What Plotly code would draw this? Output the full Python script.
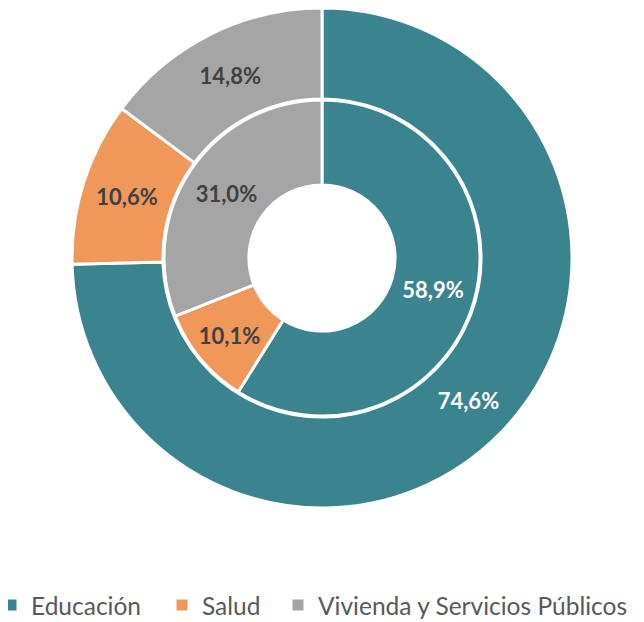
import plotly.graph_objects as go

labels = ["Educación", "Salud", "Vivienda y Servicios Públicos"]
outer_values = [74.6, 10.6, 14.8]
inner_values = [58.9, 10.1, 31.0]
colors = ["#3A8490", "#F0975A", "#A5A5A5"]
text_colors = ["#FFFFFF", "#404040", "#404040"]


def fmt(v):
    return f"{v:.1f}%".replace(".", ",")


W, H = 644, 622
# page body has an 8px margin, so the centre is shifted by that amount
cx, cy = 314, 250
R_OUT, R_IN = 250, 158


def dom(r):
    return dict(x=[(cx - r) / W, (cx + r) / W],
                y=[(H - cy - r) / H, (H - cy + r) / H])


fig = go.Figure()
fig.add_trace(go.Pie(
    labels=labels, values=outer_values, text=[fmt(v) for v in outer_values],
    textinfo="text", hole=161 / 253, sort=False, direction="clockwise", rotation=0,
    domain=dom(R_OUT), marker=dict(colors=colors, line=dict(color="white", width=3)),
    textposition="inside", insidetextorientation="horizontal",
    textfont=dict(family="Lato", size=22, color=text_colors, weight="bold"),
    hoverinfo="label+text", showlegend=False,
))
fig.add_trace(go.Pie(
    labels=labels, values=inner_values, text=[fmt(v) for v in inner_values],
    textinfo="text", hole=74 / 160, sort=False, direction="clockwise", rotation=0,
    domain=dom(R_IN), marker=dict(colors=colors, line=dict(color="white", width=3)),
    textposition="inside", insidetextorientation="horizontal",
    textfont=dict(family="Lato", size=22, color=text_colors, weight="bold"),
    hoverinfo="label+text", showlegend=False,
))

# legend: one small legend per category so the spacing can match the original
legend_x = [-17, 154, 270]  # px from the left edge of the figure
legend_ids = ["legend", "legend2", "legend3"]
legends = {}
for lab, col, lid, lx in zip(labels, colors, legend_ids, legend_x):
    fig.add_trace(go.Scatter(
        x=[None], y=[None], mode="markers", name=lab, legend=lid,
        marker=dict(symbol="square", size=11, color=col),
    ))
    legends[lid] = dict(orientation="h", x=lx / W, xanchor="left",
                        y=0.04, yanchor="middle",
                        font=dict(size=24.5, color="#595959"),
                        bgcolor="rgba(0,0,0,0)")

fig.update_layout(
    width=W, height=H, margin=dict(l=0, r=0, t=0, b=0, autoexpand=False),
    paper_bgcolor="white", plot_bgcolor="white",
    font=dict(family="Lato", color="#595959"),
    xaxis=dict(visible=False), yaxis=dict(visible=False),
    **legends,
)
fig.write_html("out.html")
